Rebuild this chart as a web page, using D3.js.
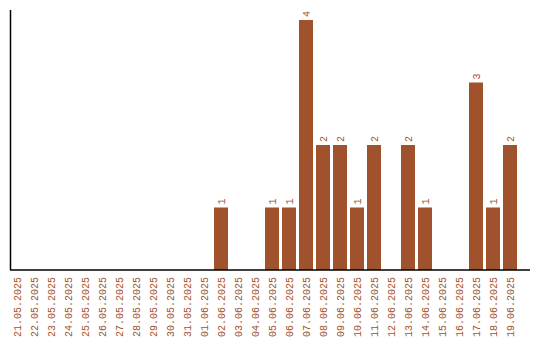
<!DOCTYPE html>
<html lang="en">
<head>
  <meta charset="UTF-8">
  <title>Daily count</title>
  <script src="https://d3js.org/d3.v7.min.js"></script>
  <style>
    body { margin: 0; background: #fff; }
  </style>
</head>
<body>
  <div id="chart"></div>
  <script>
    const dates = [
      "21.05.2025", "22.05.2025", "23.05.2025", "24.05.2025", "25.05.2025",
      "26.05.2025", "27.05.2025", "28.05.2025", "29.05.2025", "30.05.2025",
      "31.05.2025", "01.06.2025", "02.06.2025", "03.06.2025", "04.06.2025",
      "05.06.2025", "06.06.2025", "07.06.2025", "08.06.2025", "09.06.2025",
      "10.06.2025", "11.06.2025", "12.06.2025", "13.06.2025", "14.06.2025",
      "15.06.2025", "16.06.2025", "17.06.2025", "18.06.2025", "19.06.2025"
    ];
    const counts = [
      0, 0, 0, 0, 0, 0, 0, 0, 0, 0,
      0, 0, 1, 0, 0, 1, 1, 4, 2, 2,
      1, 2, 0, 2, 1, 0, 0, 3, 1, 2
    ];

    const width = 540;
    const height = 340;
    const color = "#a0522d";
    const font = "'Liberation Mono', 'DejaVu Sans Mono', monospace";

    const data = dates.map((d, i) => ({ date: d, count: counts[i] }));

    const svg = d3.select("#chart")
      .append("svg")
      .attr("width", width)
      .attr("height", height);

    const x = d3.scaleBand()
      .domain(dates)
      .range([10, 517])
      .paddingInner(3 / 17)
      .paddingOuter(0);

    const y = d3.scaleLinear()
      .domain([0, d3.max(counts)])
      .range([270, 20]);

    // bars
    svg.selectAll("rect")
      .data(data)
      .enter()
      .append("rect")
      .attr("x", d => x(d.date))
      .attr("y", d => y(d.count))
      .attr("width", x.bandwidth())
      .attr("height", d => y(0) - y(d.count))
      .attr("fill", color);

    // value labels
    svg.selectAll(".label")
      .data(data.filter(d => d.count > 0))
      .enter()
      .append("text")
      .attr("class", "label")
      .attr("transform", d => `translate(${x(d.date) + x.bandwidth() / 2}, ${y(d.count) - 3}) rotate(-90)`)
      .attr("dy", "0.35em")
      .attr("font-family", font)
      .attr("font-size", "10px")
      .attr("fill", color)
      .text(d => d.count);

    // x axis
    const xAxis = svg.append("g")
      .attr("transform", "translate(0, 270)")
      .call(d3.axisBottom(x).tickSize(0));
    xAxis.select(".domain").remove();
    xAxis.selectAll("text")
      .attr("transform", "rotate(-90)")
      .attr("x", -7)
      .attr("y", 0)
      .attr("dy", "0.35em")
      .attr("text-anchor", "end")
      .attr("font-family", font)
      .attr("font-size", "10px")
      .attr("fill", color);

    svg.append("line")
      .attr("x1", 10).attr("x2", 530)
      .attr("y1", 270).attr("y2", 270)
      .attr("stroke", "#000")
      .attr("stroke-width", 1.5);

    // y axis line only
    svg.append("line")
      .attr("x1", 10.5).attr("x2", 10.5)
      .attr("y1", 10).attr("y2", 270)
      .attr("stroke", "#000")
      .attr("stroke-width", 1.5);
  </script>
</body>
</html>
